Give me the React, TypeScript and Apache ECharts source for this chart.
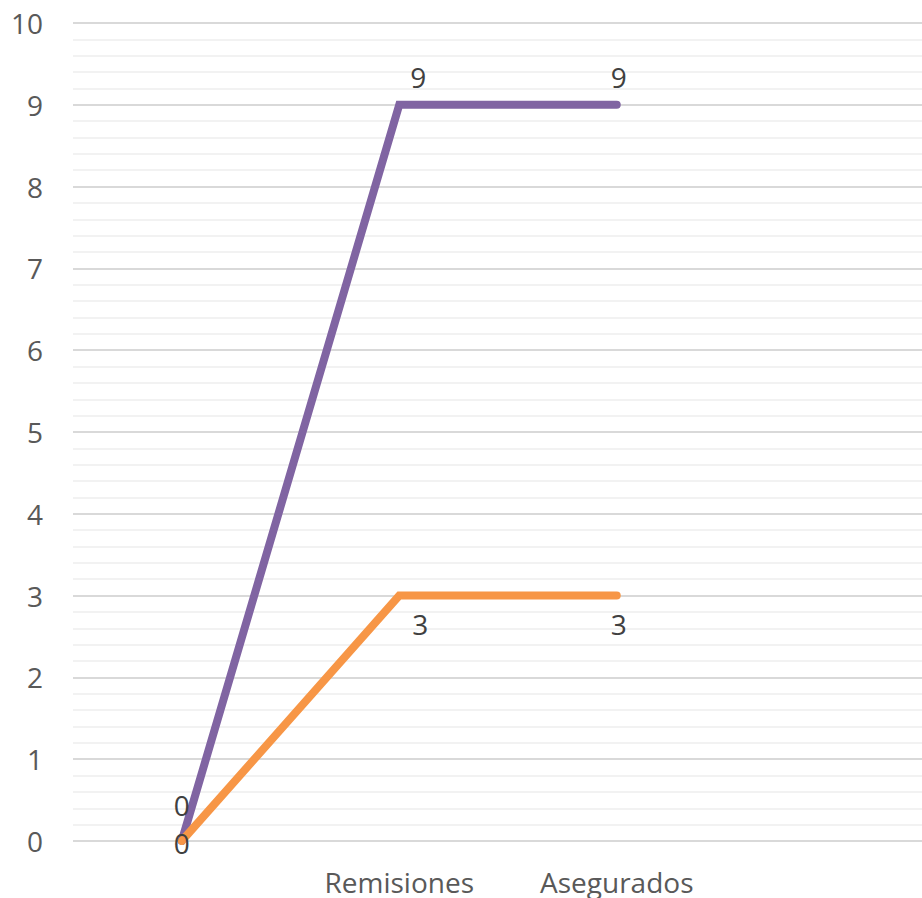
import React, { useEffect, useRef } from "react";
import * as echarts from "echarts";

const categories = ["", "Remisiones", "Asegurados", ""];
const purpleValues = [0, 9, 9, null];
const orangeValues = [0, 3, 3, null];
const yMin = 0;
const yMax = 10;
const yInterval = 1;

const purpleLabelOffsets = [[0, -36], [19, -28], [2, -28], [0, 0]];
const orangeLabelOffsets = [[0, 2], [21, 28], [2, 28], [0, 0]];

function buildData(values: (number | null)[], offsets: number[][]) {
  return values.map((v, i) => ({
    value: v,
    label: { offset: offsets[i] },
  }));
}

export default function App() {
  const ref = useRef<HTMLDivElement>(null);
  useEffect(() => {
    if (!ref.current) return;
    const chart = echarts.init(ref.current, null, { renderer: "svg" });
    const font = "'Open Sans', 'Noto Sans', sans-serif";
    const labelCfg = {
      show: true,
      position: "inside",
      color: "#404040",
      fontSize: 28,
      fontFamily: font,
    };
    chart.setOption({
      animation: false,
      backgroundColor: "#ffffff",
      grid: {
        left: 73,
        width: 870,
        top: 23,
        bottom: 57,
        containLabel: false,
        outerBoundsMode: "none",
      },
      xAxis: {
        type: "category",
        data: categories,
        boundaryGap: true,
        axisLine: { show: false },
        axisTick: { show: false },
        axisLabel: {
          color: "#595959",
          fontSize: 28,
          lineHeight: 26,
          fontFamily: font,
          margin: 28,
          interval: 0,
        },
        splitLine: { show: false },
      },
      yAxis: {
        type: "value",
        min: yMin,
        max: yMax,
        interval: yInterval,
        axisLine: { show: false },
        axisTick: { show: false },
        axisLabel: {
          color: "#595959",
          fontSize: 28,
          fontFamily: font,
          margin: 30,
        },
        splitLine: { show: true, lineStyle: { color: "#d9d9d9", width: 2 } },
        minorTick: { show: false, splitNumber: 5 },
        minorSplitLine: { show: true, lineStyle: { color: "#f2f2f2", width: 2 } },
      },
      series: [
        {
          type: "line",
          data: buildData(purpleValues, purpleLabelOffsets),
          symbol: "circle",
          symbolSize: 1,
          itemStyle: { color: "rgba(0,0,0,0)" },
          lineStyle: { color: "#8064a2", width: 8, cap: "round", join: "miter" },
          label: labelCfg,
          z: 2,
        },
        {
          type: "line",
          data: buildData(orangeValues, orangeLabelOffsets),
          symbol: "circle",
          symbolSize: 1,
          itemStyle: { color: "rgba(0,0,0,0)" },
          lineStyle: { color: "#f79646", width: 8, cap: "round", join: "miter" },
          label: labelCfg,
          z: 3,
        },
      ],
    });
    return () => chart.dispose();
  }, []);
  return (
    <div
      ref={ref}
      style={{ position: "fixed", left: 0, top: 0, width: 922, height: 898 }}
    />
  );
}
